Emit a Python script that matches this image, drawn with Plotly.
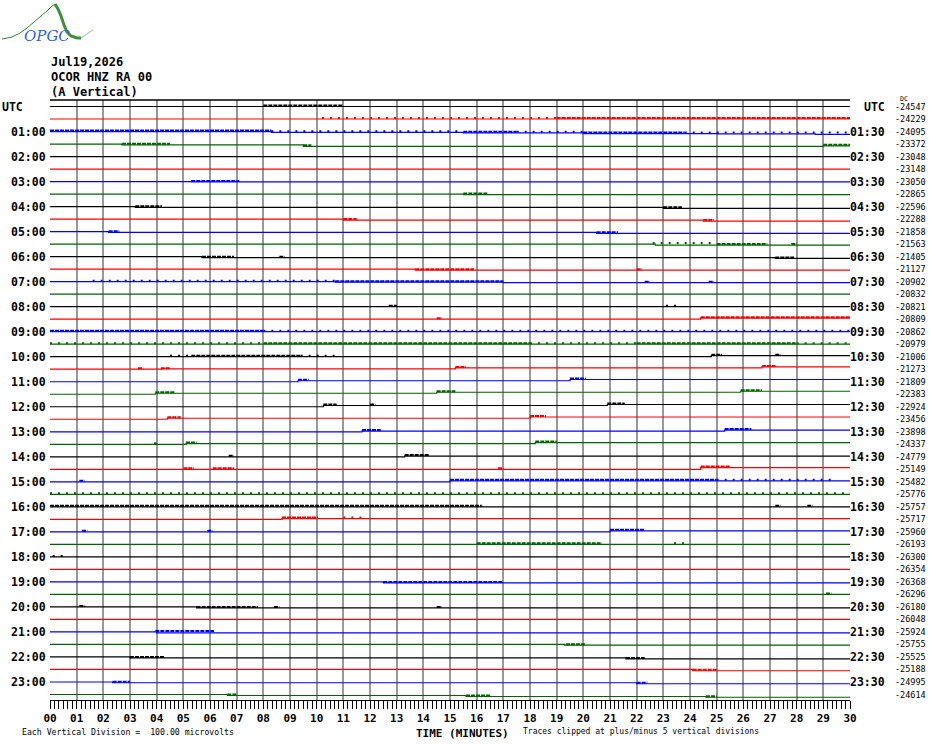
import plotly.graph_objects as go

# Data
n_rows = 48
row_colors = ['#000000', '#ff0000', '#0000ff', '#006400']
minute_labels = ['%02d' % m for m in range(31)]
left_labels = ['UTC'] + ['%02d:00' % h for h in range(1, 24)]
right_labels = ['UTC'] + ['%02d:30' % h for h in range(1, 24)]

dc_values = [-24547, -24229, -24095, -23372, -23048, -23148, -23050, -22865,
             -22596, -22288, -21858, -21563, -21405, -21127, -20902, -20832,
             -20821, -20809, -20862, -20979, -21006, -21273, -21809, -22383,
             -22924, -23456, -23898, -24337, -24779, -25149, -25482, -25776,
             -25757, -25717, -25960, -26193, -26300, -26354, -26368, -26296,
             -26180, -26048, -25924, -25755, -25525, -25188, -24995, -24614]

# baseline steps: (row, minute, new level in microvolts)
steps = [
    (2, 8.3, -6), (2, 15.5, -10), (2, 20, -16), (2, 25, -18), (2, 28.7, -22),
    (3, 2.7, -6), (3, 9.5, -18), (3, 29.0, -14),
    (6, 5.3, -3), (7, 15.5, -4),
    (8, 3.2, -6), (8, 23.0, -14),
    (9, 11, -8), (9, 24.5, -16),
    (10, 2.2, -6), (10, 20.5, -14),
    (11, 22.7, -8),
    (12, 5.7, -8), (12, 27.2, -14),
    (13, 13.7, -8),
    (14, 10.7, -4), (14, 17, -8),
    (17, 24.4, 8), (20, 24.8, 8),
    (21, 4.2, 3), (21, 15.2, 10), (21, 26.7, 18),
    (22, 9.3, 8), (22, 19.5, 18),
    (23, 3.95, 8), (23, 14.5, 16), (23, 25.9, 24),
    (24, 10.25, 10), (24, 20.9, 18),
    (25, 4.4, 8), (25, 18, 18),
    (26, 11.7, 6), (26, 25.3, 14),
    (27, 5.1, 6), (27, 18.2, 14),
    (28, 13.3, 6), (29, 24.4, 14), (30, 15, 8),
    (33, 8.7, 6), (34, 21, 8),
    (38, 12.5, -8), (40, 5.5, -8), (42, 4, -8), (43, 19.3, -6),
    (44, 3, -8), (44, 21.6, -16),
    (45, 24.1, -10),
    (46, 2.35, -6), (46, 22, -14),
    (47, 6.65, -8), (47, 15.6, -16), (47, 24.6, -22),
]

# noise bursts: (row, start minute, end minute, kind) d=dense s=sparse
bursts = [
    (0, 8.0, 11.0, 'd'),
    (1, 10.2, 19.0, 's'), (1, 19.0, 30.0, 'd'),
    (2, 0, 8.3, 'd'), (2, 8.3, 15.5, 's'), (2, 15.5, 17.5, 'd'), (2, 17.5, 20, 's'),
    (2, 20, 23.8, 'd'), (2, 23.8, 30, 's'),
    (3, 2.7, 4.5, 'd'), (3, 9.5, 9.8, 'd'), (3, 29.0, 30, 'd'),
    (6, 5.3, 7.1, 'd'), (7, 15.5, 16.4, 'd'),
    (8, 3.2, 4.2, 'd'), (8, 23.0, 23.7, 'd'),
    (9, 11.0, 11.5, 'd'), (9, 24.5, 24.9, 'd'),
    (10, 2.2, 2.6, 'd'), (10, 20.5, 21.3, 'd'),
    (11, 22.6, 24.9, 's'), (11, 25.0, 26.9, 'd'), (11, 27.8, 28.0, 'd'),
    (12, 5.7, 6.9, 'd'), (12, 8.6, 8.8, 'd'), (12, 27.2, 27.9, 'd'),
    (13, 13.7, 15.9, 'd'), (13, 22.0, 22.2, 'd'),
    (14, 1.6, 10.7, 's'), (14, 10.7, 17.0, 'd'), (14, 22.3, 22.5, 'd'), (14, 24.7, 24.9, 'd'),
    (16, 12.7, 13.0, 'd'), (16, 23.1, 23.6, 's'),
    (17, 14.5, 14.7, 'd'), (17, 24.4, 30, 'd'),
    (18, 0, 8.0, 'd'), (18, 8.0, 30, 's'),
    (19, 0, 8.0, 's'), (19, 8.0, 18.0, 'd'), (19, 18, 22, 's'), (19, 22, 28, 'd'), (19, 28, 30, 's'),
    (20, 4.5, 5.3, 's'), (20, 5.3, 9.4, 'd'), (20, 9.4, 10.7, 's'), (20, 24.8, 25.2, 'd'),
    (20, 27.2, 27.4, 'd'),
    (21, 3.3, 3.5, 'd'), (21, 4.15, 4.5, 'd'), (21, 15.2, 15.6, 'd'), (21, 26.7, 27.2, 'd'),
    (22, 9.3, 9.7, 'd'), (22, 19.5, 20.1, 'd'),
    (23, 3.95, 4.7, 'd'), (23, 14.5, 15.2, 'd'), (23, 25.9, 26.7, 'd'),
    (24, 10.25, 10.75, 'd'), (24, 12.0, 12.2, 'd'), (24, 20.9, 21.55, 'd'),
    (25, 4.4, 4.9, 'd'), (25, 18.0, 18.6, 'd'),
    (26, 11.7, 12.4, 'd'), (26, 25.3, 26.3, 'd'),
    (27, 3.9, 4.0, 'd'), (27, 5.1, 5.5, 'd'), (27, 18.2, 19.0, 'd'),
    (28, 6.7, 6.9, 'd'), (28, 13.3, 14.2, 'd'),
    (29, 5.0, 5.4, 'd'), (29, 6.1, 6.9, 'd'), (29, 16.8, 17.0, 'd'), (29, 24.4, 25.5, 'd'),
    (30, 1.1, 1.3, 'd'), (30, 15.0, 25.0, 'd'), (30, 25.0, 29.5, 's'),
    (31, 0, 30, 's'),
    (32, 0, 16.2, 'd'), (32, 27.2, 27.4, 'd'), (32, 28.4, 28.6, 'd'),
    (33, 8.7, 10.05, 'd'), (33, 11.0, 11.7, 's'),
    (34, 1.2, 1.4, 'd'), (34, 5.9, 6.1, 'd'), (34, 21.0, 22.3, 'd'),
    (35, 16.0, 20.7, 'd'), (35, 23.4, 23.8, 's'),
    (36, 0.1, 0.5, 's'),
    (38, 12.5, 17.0, 'd'),
    (39, 29.1, 29.3, 'd'),
    (40, 1.1, 1.3, 'd'), (40, 5.5, 7.8, 'd'), (40, 8.4, 8.6, 'd'), (40, 14.5, 14.7, 'd'),
    (42, 3.95, 6.15, 'd'),
    (43, 19.35, 20.1, 'd'),
    (44, 3.0, 4.3, 'd'), (44, 21.6, 22.3, 'd'),
    (45, 24.1, 25.0, 'd'),
    (46, 2.35, 3.0, 'd'), (46, 22.0, 22.4, 'd'),
    (47, 6.65, 7.0, 'd'), (47, 15.6, 16.5, 'd'), (47, 24.6, 25.0, 'd'),
]

uv_per_div = 100.0
mono = 'DejaVu Sans Mono'


def level_at(row, minute):
    lev = 0
    for r, m, v in steps:
        if r == row and m <= minute:
            lev = v
    return lev


def row_y(row, uv):
    return row - uv / uv_per_div


fig = go.Figure()

# baselines
for i in range(n_rows):
    xs = [0]
    ys = [row_y(i, 0)]
    for r, m, v in steps:
        if r == i:
            xs.append(m)
            ys.append(row_y(i, v))
    xs.append(30)
    ys.append(ys[-1])
    fig.add_trace(go.Scatter(x=xs, y=ys, mode='lines', line_shape='hv',
                             line=dict(color=row_colors[i % 4], width=1.2),
                             hoverinfo='skip'))

# noise bursts, grouped by colour and kind
for c in range(4):
    for kind in ['d', 's']:
        xs, ys = [], []
        for r, a, b, k in bursts:
            if r % 4 == c and k == kind:
                y = row_y(r, level_at(r, a) + 8)
                xs += [a, b, None]
                ys += [y, y, None]
        if not xs:
            continue
        if kind == 'd':
            ln = dict(color=row_colors[c], width=2, dash='4px,1px')
        else:
            ln = dict(color=row_colors[c], width=2, dash='2px,6px')
        fig.add_trace(go.Scatter(x=xs, y=ys, mode='lines', line=ln,
                                 hoverinfo='skip'))


def px_x(px):
    return (px - 50) / 800.0


def px_y(py):
    return (700 - py) / 600.0


ann = []
for j in range(24):
    i = 2 * j
    if j == 0:
        ann.append(dict(x=px_x(0), xanchor='left', text=left_labels[j]))
    else:
        ann.append(dict(x=px_x(48), xanchor='right', text=left_labels[j]))
    ann[-1].update(y=i, yref='y', xref='paper', yanchor='middle', showarrow=False,
                   font=dict(family=mono, size=11.5, color='black', weight='bold'))
    ann.append(dict(x=px_x(887), xanchor='right', text=right_labels[j], y=i, yref='y',
                    xref='paper', yanchor='middle', showarrow=False,
                    font=dict(family=mono, size=11.5, color='black', weight='bold')))

for i, v in enumerate(dc_values):
    ann.append(dict(x=px_x(893), xanchor='left', y=i, yref='y', xref='paper',
                    yanchor='middle', showarrow=False, text=str(v),
                    font=dict(family=mono, size=8.5, color='black')))

ann.append(dict(x=px_x(898), y=px_y(99), xref='paper', yref='paper', xanchor='left',
                yanchor='middle', showarrow=False, text='DC',
                font=dict(family=mono, size=6.5, color='black')))

header = ['Jul19,2026', 'OCOR HNZ RA 00', '(A Vertical)']
for k, t in enumerate(header):
    ann.append(dict(x=px_x(49), y=px_y(62 + 15 * k), xref='paper', yref='paper',
                    xanchor='left', yanchor='middle', showarrow=False, text=t,
                    font=dict(family=mono, size=12, color='black', weight='bold')))

ann.append(dict(x=px_x(462), y=px_y(733), xref='paper', yref='paper', xanchor='center',
                yanchor='middle', showarrow=False, text='TIME (MINUTES)',
                font=dict(family=mono, size=11, color='black', weight='bold')))
ann.append(dict(x=px_x(20), y=px_y(732), xref='paper', yref='paper', xanchor='left',
                yanchor='middle', showarrow=False,
                text='Each Vertical Division =  100.00 microvolts',
                font=dict(family=mono, size=8.2, color='black')))
ann.append(dict(x=px_x(521), y=px_y(732), xref='paper', yref='paper', xanchor='left',
                yanchor='middle', showarrow=False,
                text='Traces clipped at plus/minus 5 vertical divisions',
                font=dict(family=mono, size=8, color='black')))

# logo
ann.append(dict(x=px_x(47), y=px_y(36), xref='paper', yref='paper', xanchor='center',
                yanchor='middle', showarrow=False, text='OPGC',
                font=dict(family='DejaVu Serif', size=15, color='#2f62d6', style='italic')))


def path(points):
    return 'M ' + ' L '.join('%f,%f' % (px_x(a), px_y(b)) for a, b in points)


shapes = [
    dict(type='path', xref='paper', yref='paper',
         path=path([(2, 39), (12, 37), (20, 33), (27, 28), (34, 22), (41, 16),
                    (47, 11), (51, 7), (55, 4)]),
         line=dict(color='#2e8b2e', width=1)),
    dict(type='path', xref='paper', yref='paper',
         path=path([(55, 4), (58, 9), (61, 16), (64, 25), (67, 32), (71, 36),
                    (77, 38), (81, 38)]),
         line=dict(color='#3c8f3c', width=3)),
    dict(type='path', xref='paper', yref='paper',
         path=path([(81, 38), (87, 34), (93, 30)]),
         line=dict(color='#8fc48f', width=1)),
    dict(type='line', xref='paper', yref='paper', x0=0, x1=1, y0=1, y1=1,
         line=dict(color='black', width=1.5)),
]

fig.update_layout(
    width=930, height=744,
    margin=dict(l=50, r=80, t=100, b=44),
    paper_bgcolor='white', plot_bgcolor='white',
    showlegend=False,
    annotations=ann,
    shapes=shapes,
)

fig.update_xaxes(range=[0, 30], tickvals=list(range(31)), ticktext=minute_labels,
                 ticks='outside', ticklen=8, tickwidth=1, tickcolor='black',
                 showline=True, linecolor='black', linewidth=1,
                 showgrid=True, gridcolor='#999999', gridwidth=1.5, zeroline=False,
                 tickfont=dict(family=mono, size=11, color='black', weight='bold'),
                 minor=dict(dtick=1 / 6, ticks='outside', ticklen=8, tickcolor='black',
                            tickwidth=1, showgrid=False),
                 fixedrange=True)
fig.update_yaxes(range=[47.44, -0.52], visible=False, fixedrange=True)

fig.write_html('out.html', config={'displayModeBar': False},
               post_script="document.body.style.margin='0px';")
